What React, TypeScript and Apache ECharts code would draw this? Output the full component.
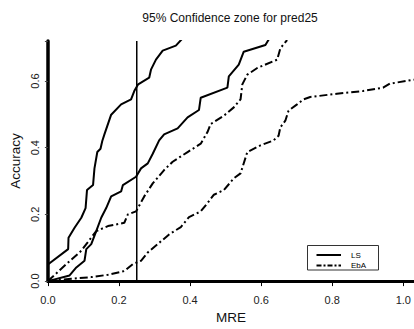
import React, { useEffect, useRef } from "react";
import * as echarts from "echarts";

const titleText = "95% Confidence zone for pred25";
const xTickLabels = ["0.0", "0.2", "0.4", "0.6", "0.8", "1.0"];
const yTickLabels = ["0.0", "0.2", "0.4", "0.6"];
const legendNames = ["LS", "EbA"];
const thresholdX = 0.25;

const lsUpper: [number, number][] = [
  [0, 0.05], [0.057, 0.096], [0.058, 0.13], [0.075, 0.16], [0.094, 0.19], [0.106, 0.219],
  [0.11, 0.273], [0.127, 0.288], [0.131, 0.338], [0.139, 0.387], [0.148, 0.397], [0.153, 0.42],
  [0.159, 0.44], [0.178, 0.499], [0.206, 0.53], [0.234, 0.545], [0.243, 0.57], [0.254, 0.59],
  [0.285, 0.61], [0.29, 0.634], [0.304, 0.664], [0.323, 0.691], [0.36, 0.706], [0.379, 0.728],
];
const lsLower: [number, number][] = [
  [0, 0], [0.061, 0.017], [0.08, 0.041], [0.103, 0.061], [0.108, 0.096], [0.122, 0.111],
  [0.136, 0.15], [0.15, 0.19], [0.164, 0.219], [0.178, 0.254], [0.206, 0.269], [0.211, 0.288],
  [0.248, 0.313], [0.262, 0.338], [0.281, 0.353], [0.295, 0.382], [0.313, 0.422], [0.327, 0.44],
  [0.365, 0.458], [0.393, 0.491], [0.425, 0.513], [0.43, 0.55], [0.505, 0.58], [0.509, 0.614],
  [0.537, 0.649], [0.551, 0.688], [0.612, 0.708], [0.626, 0.733],
];
const ebaUpper: [number, number][] = [
  [0, 0], [0.052, 0.051], [0.094, 0.091], [0.136, 0.15], [0.169, 0.165], [0.215, 0.175],
  [0.225, 0.2], [0.248, 0.209], [0.271, 0.254], [0.295, 0.293], [0.327, 0.333], [0.351, 0.358],
  [0.393, 0.387], [0.43, 0.412], [0.449, 0.447], [0.458, 0.471], [0.495, 0.496], [0.523, 0.521],
  [0.542, 0.545], [0.547, 0.59], [0.561, 0.619], [0.589, 0.639], [0.645, 0.664], [0.654, 0.698],
  [0.673, 0.723],
];
const ebaLower: [number, number][] = [
  [0, 0], [0.066, 0.007], [0.122, 0.012], [0.169, 0.019], [0.215, 0.03], [0.239, 0.051],
  [0.262, 0.061], [0.281, 0.086], [0.309, 0.111], [0.341, 0.14], [0.374, 0.162], [0.397, 0.192],
  [0.43, 0.209], [0.449, 0.234], [0.467, 0.259], [0.495, 0.273], [0.523, 0.308], [0.542, 0.323],
  [0.561, 0.387], [0.598, 0.407], [0.635, 0.422], [0.649, 0.436], [0.654, 0.461], [0.668, 0.481],
  [0.677, 0.511], [0.701, 0.53], [0.719, 0.545], [0.738, 0.552], [0.813, 0.562], [0.887, 0.57],
  [0.943, 0.58], [0.962, 0.592], [1.03, 0.604],
];

const FONT = "'Liberation Sans', Arial, sans-serif";
const DASHDOT = [8, 3, 2, 3];

export default function App() {
  const ref = useRef<HTMLDivElement>(null);
  useEffect(() => {
    if (!ref.current) return;
    const chart = echarts.init(ref.current, null, { renderer: "svg" });
    const solid = { color: "#000", width: 2, type: "solid" as const };
    const dd = { color: "#000", width: 2, type: DASHDOT as any };
    chart.setOption({
      animation: false,
      backgroundColor: "#fff",
      textStyle: { fontFamily: FONT },
      title: {
        text: titleText,
        left: 225,
        textAlign: "center",
        top: 7,
        textStyle: { fontFamily: FONT, fontSize: 12, fontWeight: "normal", color: "#111" },
      },
      grid: { left: 46.5, top: 41, right: 0, bottom: 45 },
      xAxis: [
        {
          type: "value",
          min: 0,
          max: 1.03,
          interval: 0.2,
          name: "MRE",
          nameLocation: "middle",
          nameGap: 28,
          nameTextStyle: { fontFamily: FONT, fontSize: 13.5, color: "#111" },
          axisLine: { show: true, onZero: false, lineStyle: { color: "#000", width: 3 } },
          axisTick: { show: true, length: 5, lineStyle: { color: "#000", width: 1 } },
          axisLabel: {
            margin: 13,
            fontFamily: FONT,
            fontSize: 11,
            color: "#222",
            formatter: (v: number) => xTickLabels[Math.round(v / 0.2)] ?? "",
            showMaxLabel: false,
          },
          splitLine: { show: false },
        },
        {
          type: "value",
          position: "top",
          min: 0,
          max: 1.03,
          axisLine: { show: true, lineStyle: { color: "#000", width: 2.5 } },
          axisTick: { show: false },
          axisLabel: { show: false },
          splitLine: { show: false },
        },
      ],
      yAxis: {
        type: "value",
        min: 0,
        max: 0.72,
        interval: 0.2,
        name: "Accuracy",
        nameLocation: "middle",
        nameGap: 23,
        nameRotate: 90,
        nameTextStyle: { fontFamily: FONT, fontSize: 13.5, color: "#111" },
        axisLine: { show: true, onZero: false, lineStyle: { color: "#000", width: 3.5 } },
        axisTick: { show: true, length: 3, lineStyle: { color: "#444", width: 1 } },
        axisLabel: {
          rotate: 90,
          margin: 7,
          fontFamily: FONT,
          fontSize: 11,
          color: "#222",
          formatter: (v: number) => yTickLabels[Math.round(v / 0.2)] ?? "",
        },
        splitLine: { show: false },
      },
      series: [
        { type: "line", name: "LS upper", data: lsUpper, symbol: "none", lineStyle: solid },
        { type: "line", name: "LS lower", data: lsLower, symbol: "none", lineStyle: solid },
        { type: "line", name: "EbA upper", data: ebaUpper, symbol: "none", lineStyle: dd },
        { type: "line", name: "EbA lower", data: ebaLower, symbol: "none", lineStyle: dd },
        {
          type: "line",
          name: "threshold",
          data: [[thresholdX, 0], [thresholdX, 0.72]],
          symbol: "none",
          lineStyle: { color: "#000", width: 1.5 },
        },
      ],
      graphic: [
        {
          type: "rect",
          shape: { x: 307.5, y: 245.5, width: 71, height: 24.5 },
          style: { fill: "#fff", stroke: "#333", lineWidth: 1 },
        },
        {
          type: "line",
          shape: { x1: 316.5, y1: 255, x2: 341, y2: 255 },
          style: { stroke: "#000", lineWidth: 2 },
        },
        {
          type: "line",
          shape: { x1: 316.5, y1: 265.5, x2: 341, y2: 265.5 },
          style: { stroke: "#000", lineWidth: 2, lineDash: [5, 2, 2, 2] },
        },
        {
          type: "text",
          x: 351,
          y: 255,
          style: { text: legendNames[0], fontFamily: FONT, fontSize: 8, fill: "#000", verticalAlign: "middle" },
        },
        {
          type: "text",
          x: 351,
          y: 265.5,
          style: { text: legendNames[1], fontFamily: FONT, fontSize: 8, fill: "#000", verticalAlign: "middle" },
        },
      ],
    });
    return () => chart.dispose();
  }, []);
  return (
    <div
      ref={ref}
      style={{ position: "fixed", left: 0, top: 0, width: 414, height: 329, background: "#fff" }}
    />
  );
}
